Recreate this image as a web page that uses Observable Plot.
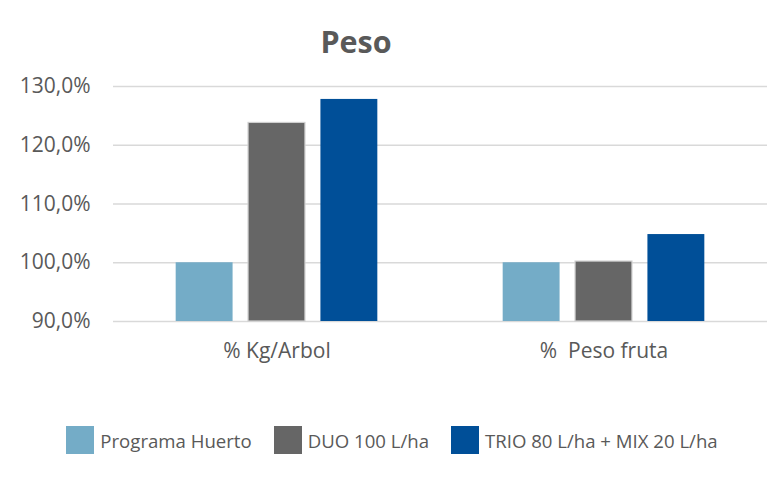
<!DOCTYPE html>
<html><head><meta charset="utf-8">
<script src="https://cdn.jsdelivr.net/npm/d3@7"></script>
<script src="https://cdn.jsdelivr.net/npm/@observablehq/plot@0.6"></script>
<style>
body{margin:0;background:#fff;font-family:"Open Sans",sans-serif;color:#595959;width:780px;height:480px;overflow:hidden;position:relative}
#title{position:absolute;left:356px;top:26px;transform:translateX(-50%);font-size:30.5px;line-height:30px;font-weight:700;white-space:nowrap}
#chart{position:absolute;left:0;top:66px}
#chart svg text{white-space:pre}
#legend{position:absolute;left:0;width:780px;top:426px;display:flex;justify-content:center;align-items:center;font-size:18.6px;padding-left:4px;box-sizing:border-box}
.item{display:flex;align-items:center;margin:0 11px}
.sw{width:28px;height:28px;margin-right:6px}
</style></head>
<body>
<div id="title">Peso</div>
<div id="chart"></div>
<div id="legend"></div>
<script>
const categories = ["% Kg/Arbol", "%  Peso fruta"];
const series = ["Programa Huerto", "DUO 100 L/ha", "TRIO 80 L/ha + MIX 20 L/ha"];
const huerto = [100, 100];
const duo = [123.8, 100.2];
const trio = [127.8, 104.8];
const yTicks = [90, 100, 110, 120, 130];
const colors = ["#74acc7", "#666666", "#004f98"];

const seriesValues = [huerto, duo, trio];
const data = [];
categories.forEach((c, i) => series.forEach((s, j) => data.push({category: c, series: s, value: seriesValues[j][i]})));

const chart = Plot.plot({
  width: 780, height: 315,
  marginLeft: 112, marginRight: 13, marginTop: 20, marginBottom: 60,
  style: {fontFamily: "Open Sans", fontSize: "21px", color: "#595959", background: "white"},
  fx: {domain: categories, padding: 0, label: null, tickSize: 0, tickPadding: 22},
  x: {domain: series, paddingInner: 0.2138, paddingOuter: 0.866, axis: null, round: false},
  y: {domain: [90, 130], ticks: yTicks, tickFormat: d => d.toFixed(1).replace(".", ",") + "%", label: null, tickSize: 0, tickPadding: 23},
  color: {domain: series, range: colors},
  marks: [
    Plot.ruleY(yTicks, {stroke: "#d9d9d9", strokeWidth: 1.5}),
    Plot.barY(data, {fx: "category", x: "series", y1: 90, y2: "value", fill: "series"}),
    Plot.barY(data.filter(d => d.series === series[1]), {fx: "category", x: "series", y1: 90, y2: "value", fill: "none", stroke: "#cfcfcf", strokeWidth: 1.2})
  ]
});
document.getElementById("chart").appendChild(chart);

const legend = document.getElementById("legend");
series.forEach((s, i) => {
  const it = document.createElement("div");
  it.className = "item";
  const sw = document.createElement("div");
  sw.className = "sw";
  sw.style.background = colors[i];
  const t = document.createElement("span");
  t.textContent = s;
  it.appendChild(sw); it.appendChild(t);
  legend.appendChild(it);
});
</script>
</body></html>
